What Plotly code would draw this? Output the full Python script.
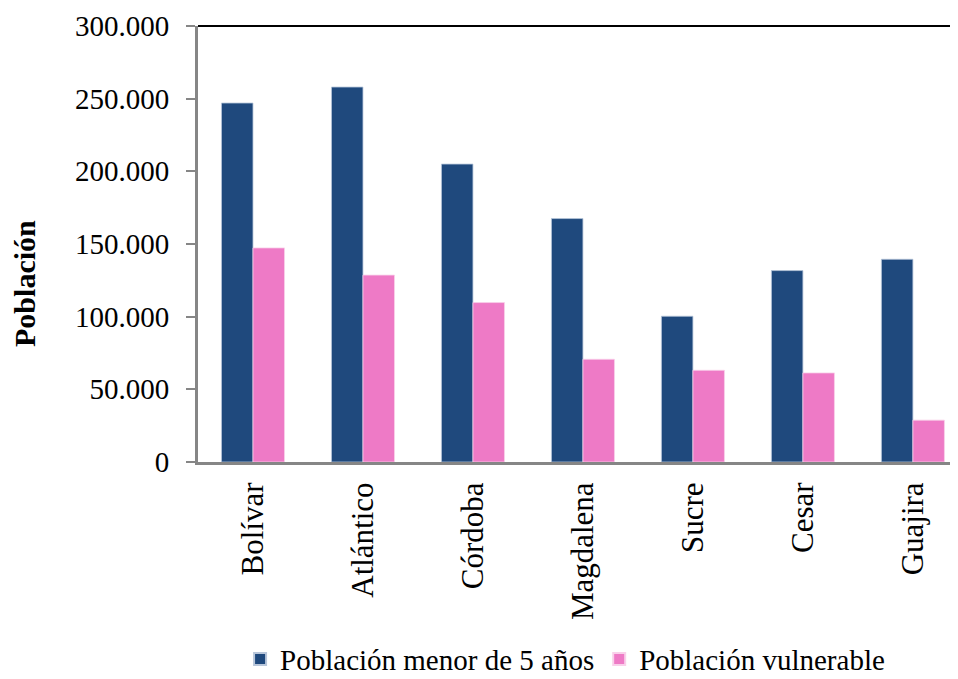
import plotly.graph_objects as go

categories = ["Bolívar", "Atlántico", "Córdoba", "Magdalena", "Sucre", "Cesar", "Guajira"]
menor_5 = [247000, 258000, 205000, 167500, 100300, 131700, 139500]
vulnerable = [147300, 128600, 109700, 70700, 63100, 61300, 28800]
series_names = ["Población menor de 5 años", "Población vulnerable"]
y_ticks = [0, 50000, 100000, 150000, 200000, 250000, 300000]
y_tick_labels = ["0", "50.000", "100.000", "150.000", "200.000", "250.000", "300.000"]

FONT = "Liberation Serif"
AXIS_GRAY = "#868686"

fig = go.Figure()
fig.add_trace(go.Bar(x=categories, y=menor_5, name=series_names[0],
                     marker=dict(color="#1F497D", line=dict(color="#B8C6DA", width=0.8))))
fig.add_trace(go.Bar(x=categories, y=vulnerable, name=series_names[1],
                     marker=dict(color="#EE7AC6", line=dict(color="#F9D0EA", width=0.8))))

fig.update_layout(
    width=958, height=679,
    margin=dict(l=190, r=8, t=18, b=225, autoexpand=False),
    paper_bgcolor="white", plot_bgcolor="white",
    barmode="group", bargap=0.427, bargroupgap=0,
    font=dict(family=FONT, size=28, color="black"),
    showlegend=True,
    legend=dict(orientation="h", x=0.483, xanchor="center", y=-0.452, yanchor="middle",
                font=dict(family=FONT, size=29, color="black"), itemwidth=30, tracegroupgap=0,
                itemsizing="constant", bgcolor="rgba(0,0,0,0)", borderwidth=0),
    xaxis=dict(
        type="category", range=[-0.5, 6.41],
        showline=True, linecolor=AXIS_GRAY, linewidth=3,
        ticks="", tickangle=-90, showgrid=False, automargin=False,
        tickfont=dict(family=FONT, size=31), ticklabelstandoff=5,
    ),
    yaxis=dict(
        range=[0, 300000], tickvals=y_ticks, ticktext=y_tick_labels,
        showline=True, linecolor=AXIS_GRAY, linewidth=3,
        ticks="outside", ticklen=9, tickwidth=2, tickcolor=AXIS_GRAY,
        showgrid=False, zeroline=False, automargin=False,
        tickfont=dict(family=FONT, size=29), ticklabelstandoff=11,
    ),
    shapes=[dict(type="line", xref="paper", yref="paper", x0=0, x1=1, y0=1, y1=1,
                 line=dict(color="black", width=2))],
    annotations=[dict(text="<b>Población</b>", xref="paper", yref="paper",
                      x=-0.228, y=0.41, xanchor="center", yanchor="middle",
                      textangle=-90, showarrow=False,
                      font=dict(family=FONT, size=30, color="black"))],
)

fig.write_html("out.html")
